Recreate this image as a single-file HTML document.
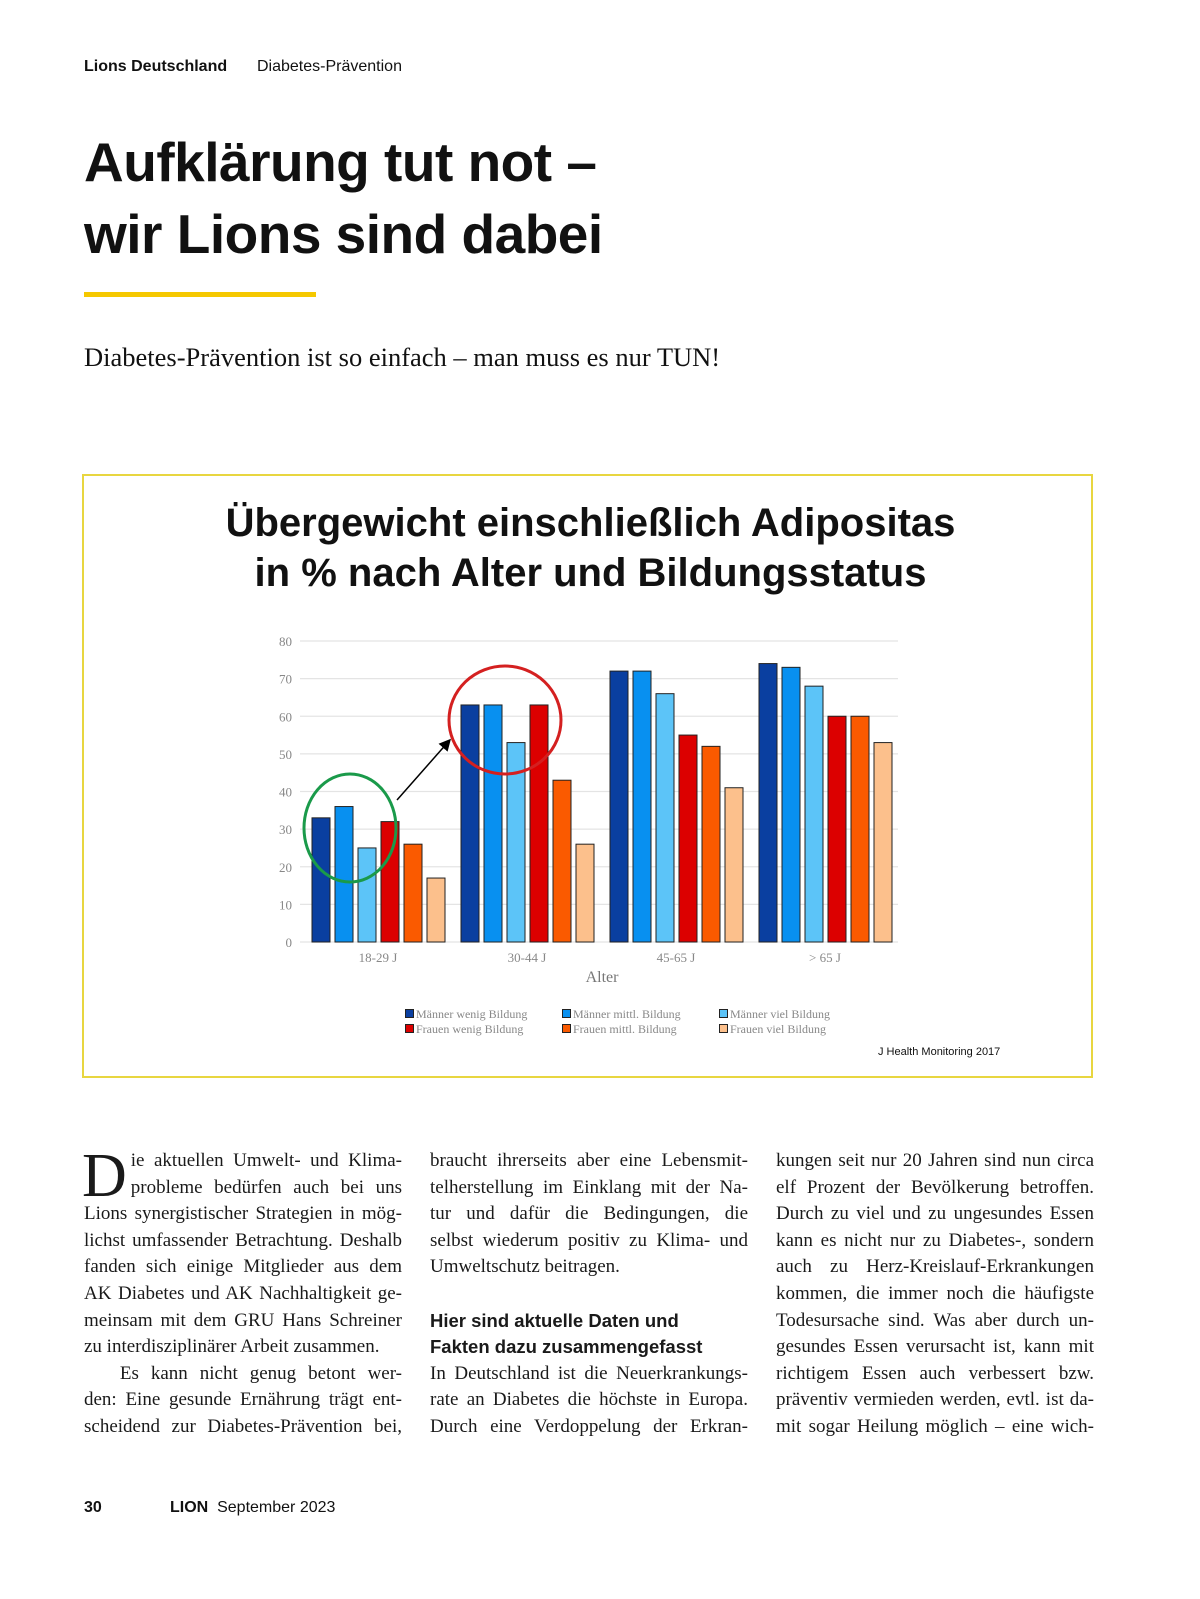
<!DOCTYPE html>
<html><head><meta charset="utf-8">
<style>
body{margin:0;width:1200px;height:1599px;background:#fff;position:relative;font-family:"Liberation Sans",sans-serif;color:#111;overflow:hidden}
.a{position:absolute}
.col{position:absolute;top:1148px;width:318px;font-family:"Liberation Serif",serif;font-size:19px;line-height:26.6px;color:#1a1a1a}
.l{text-align:justify;text-align-last:justify;white-space:nowrap;overflow:visible}
.e{text-align:left;text-align-last:left}
.h{font-family:"Liberation Sans",sans-serif;font-weight:bold;font-size:18.5px}
</style></head><body>
<div class="a" style="left:84px;top:58px;font-size:16px;font-weight:bold">Lions Deutschland</div>
<div class="a" style="left:257px;top:58px;font-size:16px">Diabetes-Prävention</div>
<div class="a" style="left:84px;top:126px;font-size:55px;font-weight:bold;line-height:72px;letter-spacing:-0.5px">Aufklärung tut not –<br>wir Lions sind dabei</div>
<div class="a" style="left:84px;top:292px;width:232px;height:5px;background:#f5c800"></div>
<div class="a" style="left:84px;top:342px;font-family:'Liberation Serif',serif;font-size:26.5px">Diabetes-Prävention ist so einfach – man muss es nur TUN!</div>

<div class="a" style="left:82px;top:474px;width:1007px;height:600px;border:2px solid #e8d640"></div>
<div class="a" style="left:82px;top:498px;width:1017px;text-align:center;font-size:40px;font-weight:bold;line-height:50px">Übergewicht einschließlich Adipositas<br>in % nach Alter und Bildungsstatus</div>
<svg class="a" style="left:0;top:0" width="1200" height="1100">
<g id="grid"></g><g id="bars"></g><g id="ann"></g>
</svg>
<div class="a" style="left:570px;top:969px;width:64px;text-align:center;font-family:'Liberation Serif',serif;font-size:16px;color:#777">Alter</div>
<div class="a" id="legend" style="left:405px;top:1007px;font-family:'Liberation Serif',serif;font-size:12px;color:#888;line-height:14.5px"></div>
<div class="a" style="left:878px;top:1046px;font-size:11px">J Health Monitoring 2017</div>

<div class="col" style="left:84px">
<div style="float:left;font-size:62px;line-height:44px;height:44px;margin:6px 4px 0 -2px">D</div>
<div class="l">ie aktuellen Umwelt- und Klima-</div>
<div class="l">probleme bedürfen auch bei uns</div>
<div class="l">Lions synergistischer Strategien in mög-</div>
<div class="l">lichst umfassender Betrachtung. Deshalb</div>
<div class="l">fanden sich einige Mitglieder aus dem</div>
<div class="l">AK Diabetes und AK Nachhaltigkeit ge-</div>
<div class="l">meinsam mit dem GRU Hans Schreiner</div>
<div class="l e">zu interdisziplinärer Arbeit zusammen.</div>
<div class="l">&nbsp;&nbsp;&nbsp;Es kann nicht genug betont wer-</div>
<div class="l">den: Eine gesunde Ernährung trägt ent-</div>
<div class="l">scheidend zur Diabetes-Prävention bei,</div>
</div>
<div class="col" style="left:430px">
<div class="l">braucht ihrerseits aber eine Lebensmit-</div>
<div class="l">telherstellung im Einklang mit der Na-</div>
<div class="l">tur und dafür die Bedingungen, die</div>
<div class="l">selbst wiederum positiv zu Klima- und</div>
<div class="l e">Umweltschutz beitragen.</div>
<div style="height:26.6px"></div>
<div class="h">Hier sind aktuelle Daten und</div>
<div class="h">Fakten dazu zusammengefasst</div>
<div class="l">In Deutschland ist die Neuerkrankungs-</div>
<div class="l">rate an Diabetes die höchste in Europa.</div>
<div class="l">Durch eine Verdoppelung der Erkran-</div>
</div>
<div class="col" style="left:776px">
<div class="l">kungen seit nur 20 Jahren sind nun circa</div>
<div class="l">elf Prozent der Bevölkerung betroffen.</div>
<div class="l">Durch zu viel und zu ungesundes Essen</div>
<div class="l">kann es nicht nur zu Diabetes-, sondern</div>
<div class="l">auch zu Herz-Kreislauf-Erkrankungen</div>
<div class="l">kommen, die immer noch die häufigste</div>
<div class="l">Todesursache sind. Was aber durch un-</div>
<div class="l">gesundes Essen verursacht ist, kann mit</div>
<div class="l">richtigem Essen auch verbessert bzw.</div>
<div class="l">präventiv vermieden werden, evtl. ist da-</div>
<div class="l">mit sogar Heilung möglich – eine wich-</div>
</div>

<div class="a" style="left:84px;top:1499px;font-size:16px;font-weight:bold">30</div>
<div class="a" style="left:170px;top:1499px;font-size:16px"><b>LION</b>&nbsp; September 2023</div>

<script>
const categories=["18-29 J","30-44 J","45-65 J","> 65 J"];
const seriesNames=["Männer wenig Bildung","Männer mittl. Bildung","Männer viel Bildung","Frauen wenig Bildung","Frauen mittl. Bildung","Frauen viel Bildung"];
const menLow=[33,63,72,74];
const menMid=[36,63,72,73];
const menHigh=[25,53,66,68];
const womenLow=[32,63,55,60];
const womenMid=[26,43,52,60];
const womenHigh=[17,26,41,53];
const yTicks=[0,10,20,30,40,50,60,70,80];
const colors=["#0a3fa0","#0890f0","#5cc4f8","#dc0000","#fa5a00","#fcc08c"];
const series=[menLow,menMid,menHigh,womenLow,womenMid,womenHigh];
const NS="http://www.w3.org/2000/svg";
const y=v=>942-v*(942-641)/80;
const x0=303,cw=149;
const x=(ci,si)=>x0+ci*cw+9+si*23;
function mk(t,a,p){const e=document.createElementNS(NS,t);for(const k in a)e.setAttribute(k,a[k]);p.appendChild(e);return e;}
const grid=document.getElementById('grid');
yTicks.forEach(v=>{
 const ln=mk('line',{x1:300,x2:898,y1:y(v),y2:y(v),stroke:'#e4e4e4','stroke-width':1.2},grid);
 
 
 const t=mk('text',{x:292,y:y(v)+5,'text-anchor':'end','font-family':'Liberation Serif, serif','font-size':13,fill:'#888'},grid);
 t.textContent=v;
 
 
});
const bars=document.getElementById('bars');
categories.forEach((c,ci)=>{
 series.forEach((s,si)=>{
  const r=mk('rect',{x:x(ci,si),y:y(s[ci]),width:18,height:942-y(s[ci]),fill:colors[si],stroke:'#222','stroke-width':1},bars);
  
  
 });
 const t=mk('text',{x:x0+ci*cw+75,y:962,'text-anchor':'middle','font-family':'Liberation Serif, serif','font-size':13,fill:'#888'},bars);
 t.textContent=c;
 
 
});
const ann=document.getElementById('ann');
const g=mk('ellipse',{cx:350,cy:828,rx:46,ry:54,fill:'none',stroke:'#1a9a4a','stroke-width':3},ann);


const rc=mk('ellipse',{cx:505,cy:720,rx:56,ry:54,fill:'none',stroke:'#d42020','stroke-width':3},ann);


mk('defs',{},ann).innerHTML='<marker id="ah" markerWidth="8" markerHeight="8" refX="6" refY="4" orient="auto"><path d="M0,0 L8,4 L0,8z" fill="#000"/></marker>';
const ar=mk('line',{x1:397,y1:800,x2:449,y2:741,stroke:'#000','stroke-width':1.5,'marker-end':'url(#ah)'},ann);


const lg=document.getElementById('legend');
const order=[0,1,2,3,4,5];
order.forEach((si,i)=>{
 const d=document.createElement('div');
 
 
 d.style.cssText='position:absolute;white-space:nowrap;left:'+((i%3)*157)+'px;top:'+(Math.floor(i/3)*14.5)+'px';
 d.innerHTML='<span style="display:inline-block;width:7px;height:7px;background:'+colors[si]+';border:1px solid #222;margin-right:2px"></span>'+seriesNames[si];
 lg.appendChild(d);
});
</script>
</body></html>
